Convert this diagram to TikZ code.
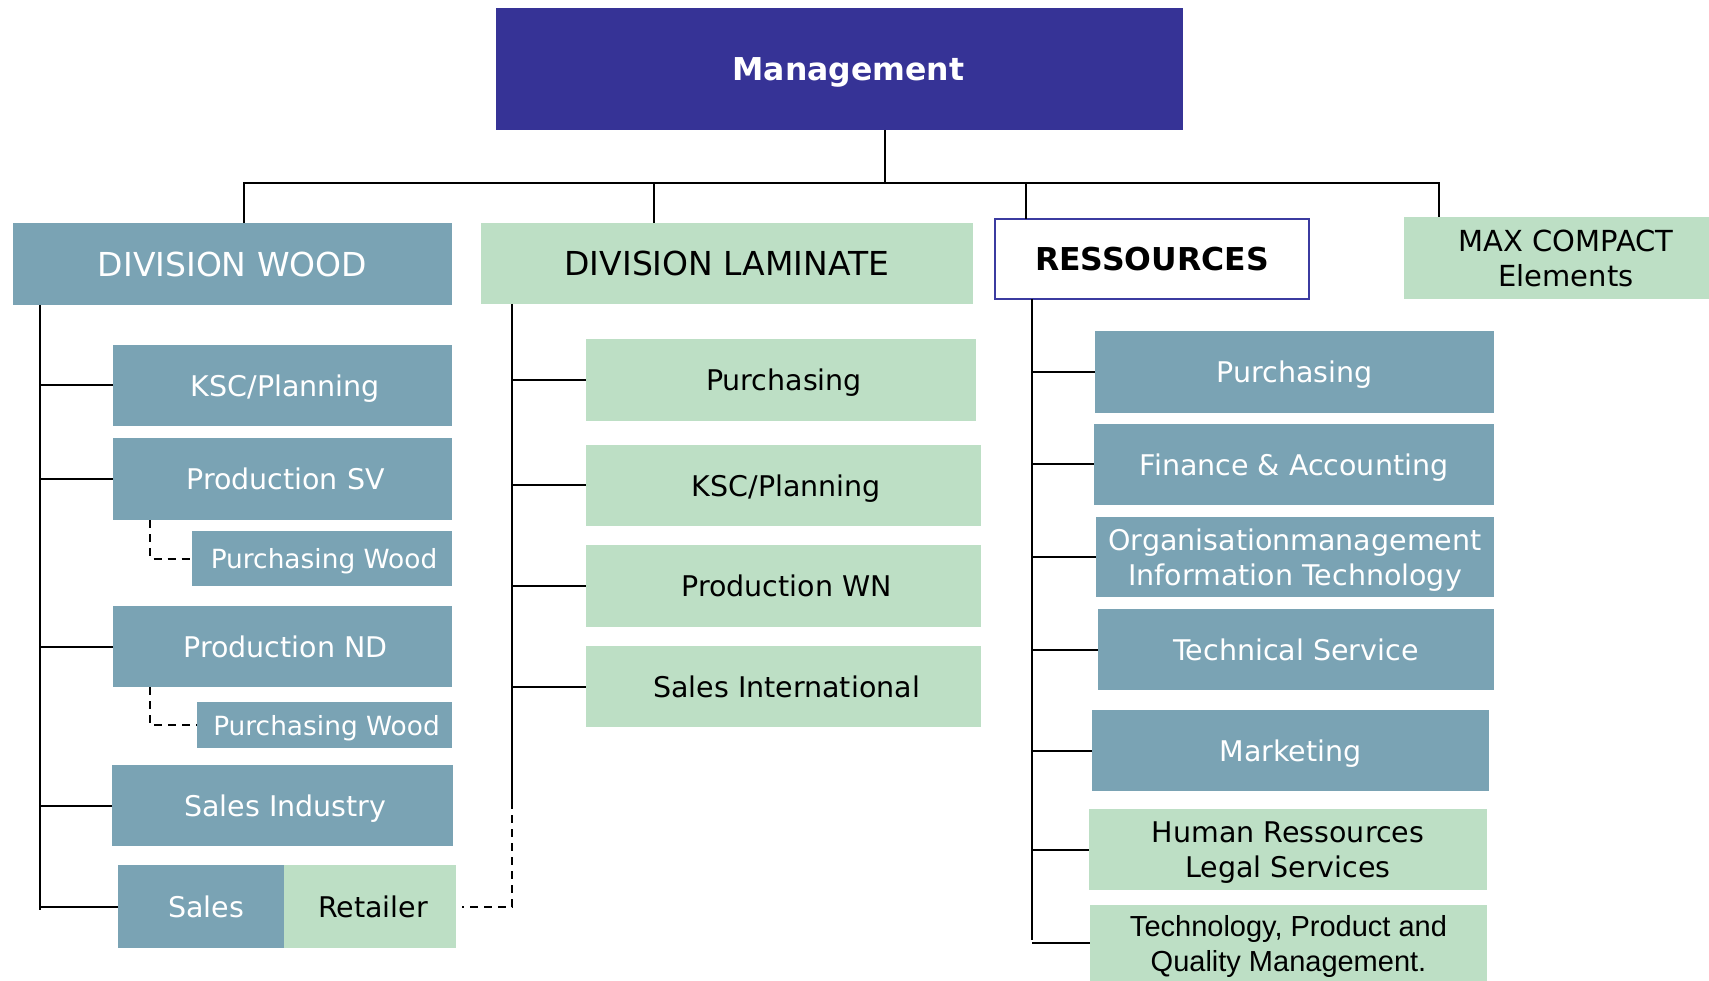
\documentclass[tikz,border=0pt]{standalone}
\usepackage{fontspec}
\setmainfont{DejaVu Sans}
\newfontfamily\arialfont{Liberation Sans}
\definecolor{bgray}{RGB}{122,163,180}
\definecolor{lgreen}{RGB}{189,223,197}
\definecolor{mblue}{RGB}{54,51,150}
\definecolor{rborder}{RGB}{59,59,160}
\begin{document}
\begin{tikzpicture}[x=1pt,y=-1pt,
  box/.style={rectangle,anchor=north west,inner sep=0pt,outer sep=0pt,align=center,text depth=0pt},
  bluebox/.style={box,fill=bgray,text=white,font=\fontsize{28.5}{35}\selectfont},
  greenbox/.style={box,fill=lgreen,text=black,font=\fontsize{28.5}{35}\selectfont},
  conn/.style={draw=black,line width=2pt},
  dconn/.style={draw=black,line width=2pt,dash pattern=on 8pt off 6pt}]
\useasboundingbox[fill=white] (0,0) rectangle (1709,981);

% top
\node[box,fill=mblue,text=white,minimum width=687pt,minimum height=122pt,font=\bfseries\fontsize{31.5}{36}\selectfont] (mgmt) at (496,8) {\hspace*{18pt}Management};

% division headers
\node[bluebox,minimum width=439pt,minimum height=82pt,font=\fontsize{33}{38}\selectfont] (wood) at (13,223) {DIVISION WOOD};
\node[greenbox,minimum width=492pt,minimum height=81pt,font=\fontsize{33}{38}\selectfont] (lam) at (481,223) {DIVISION LAMINATE};
\node[box,fill=white,draw=rborder,line width=1.6pt,minimum width=314pt,minimum height=80pt,font=\bfseries\fontsize{31.5}{36}\selectfont] (res) at (995,219) {RESSOURCES};
\node[greenbox,text depth=,minimum width=310pt,minimum height=82pt,font=\fontsize{29}{35}\selectfont] (max) at (1404,217) {\hspace*{14pt}MAX COMPACT\\\hspace*{14pt}Elements};

% wood column
\node[bluebox,minimum width=339pt,minimum height=81pt] (wksc) at (113,345) {\hspace*{6pt}KSC/Planning};
\node[bluebox,minimum width=339pt,minimum height=82pt] (wsv) at (113,438) {\hspace*{6pt}Production SV};
\node[bluebox,minimum width=260pt,minimum height=55pt,font=\fontsize{26.4}{32}\selectfont] (pw1) at (192,531) {\hspace*{4pt}Purchasing Wood};
\node[bluebox,minimum width=339pt,minimum height=81pt] (wnd) at (113,606) {\hspace*{6pt}Production ND};
\node[bluebox,minimum width=255pt,minimum height=46pt,font=\fontsize{26.4}{32}\selectfont] (pw2) at (197,702) {\hspace*{4pt}Purchasing Wood};
\node[bluebox,minimum width=341pt,minimum height=81pt] (wsi) at (112,765) {\hspace*{6pt}Sales Industry};
\node[bluebox,minimum width=166pt,minimum height=83pt] (sales) at (118,865) {\hspace*{10pt}Sales};
\node[greenbox,minimum width=172pt,minimum height=83pt] (ret) at (284,865) {\hspace*{6pt}Retailer};

% laminate column
\node[greenbox,minimum width=390pt,minimum height=82pt] (lpur) at (586,339) {\hspace*{6pt}Purchasing};
\node[greenbox,minimum width=395pt,minimum height=81pt] (lksc) at (586,445) {\hspace*{6pt}KSC/Planning};
\node[greenbox,minimum width=395pt,minimum height=82pt] (lwn) at (586,545) {\hspace*{6pt}Production WN};
\node[greenbox,minimum width=395pt,minimum height=81pt] (lsi) at (586,646) {\hspace*{6pt}Sales International};

% ressources column
\node[bluebox,minimum width=399pt,minimum height=82pt] (rpur) at (1095,331) {Purchasing};
\node[bluebox,minimum width=400pt,minimum height=81pt] (rfin) at (1094,424) {Finance \& Accounting};
\node[bluebox,minimum width=398pt,minimum height=80pt] (rorg) at (1096,517) {Organisationmanagement\\Information Technology};
\node[bluebox,minimum width=396pt,minimum height=81pt] (rtec) at (1098,609) {Technical Service};
\node[bluebox,minimum width=397pt,minimum height=81pt] (rmar) at (1092,710) {Marketing};
\node[greenbox,minimum width=398pt,minimum height=81pt] (rhr) at (1089,809) {Human Ressources\\Legal Services};
\node[greenbox,minimum width=397pt,minimum height=76pt,font=\arialfont\fontsize{29}{35}\selectfont] (rtq) at (1090,905) {Technology, Product and\\Quality Management.};

% top connectors
\coordinate (busL) at (244,183);
\coordinate (busR) at (1439,183);
\coordinate (stem) at (885,183);
\coordinate (dLam) at (654,183);
\coordinate (dRes) at (1026,183);
\draw[conn] (stem |- mgmt.south) -- (stem);
\draw[conn] (busL |- wood.north) -- (busL) -- (busR) -- (busR |- max.north);
\draw[conn] (dLam) -- (dLam |- lam.north);
\draw[conn] (dRes) -- (dRes |- res.north);

% wood connectors
\coordinate (wsp) at (40,910);
\draw[conn] (wsp |- wood.south) -- (wsp);
\foreach \n in {wksc,wsv,wnd,wsi,sales} \draw[conn] (wsp |- \n.west) -- (\n.west);
\coordinate (dw) at (150,0);
\draw[dconn] (dw |- wsv.south) |- (pw1.west);
\draw[dconn] (dw |- wnd.south) |- (pw2.west);

% laminate connectors
\coordinate (lsp) at (512,801);
\draw[conn] (lsp |- lam.south) -- (lsp);
\foreach \n in {lpur,lksc,lwn,lsi} \draw[conn] (lsp |- \n.west) -- (\n.west);
\draw[dconn] (lsp) |- ([xshift=6pt]ret.east);

% ressources connectors
\coordinate (rsp) at (1032,940);
\draw[conn] (rsp |- res.south) -- (rsp);
\foreach \n in {rpur,rfin,rorg,rtec,rmar,rhr,rtq} \draw[conn] (rsp |- \n.west) -- (\n.west);
\end{tikzpicture}
\end{document}
